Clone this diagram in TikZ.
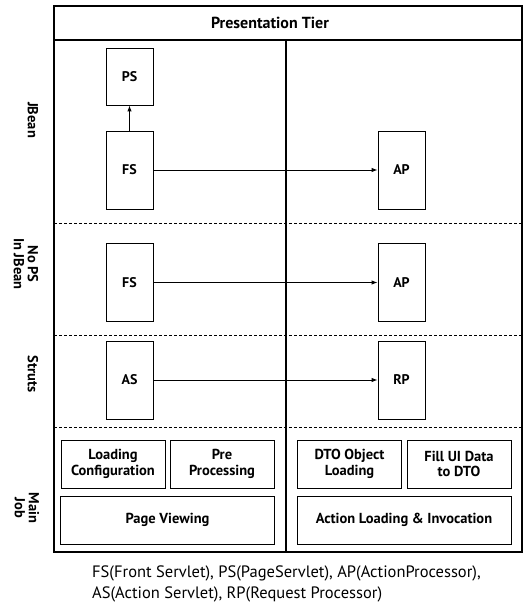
\documentclass[tikz,border=0pt]{standalone}
\usepackage{fontspec}
\setmainfont{PT Sans}
\usetikzlibrary{positioning, arrows.meta}

\begin{document}
\begin{tikzpicture}[x=1pt,y=-1pt,
        servlet/.style={draw, line width=0.9pt, minimum width=47pt, minimum height=78pt, inner sep=0pt, font=\bfseries\fontsize{14}{15}\selectfont},
        jobbox/.style={draw, line width=0.9pt, minimum width=104pt, minimum height=48pt, inner sep=0pt, align=center, font=\bfseries\fontsize{14.5}{15.5}\selectfont},
        widebox/.style={jobbox, minimum width=214pt},
        lane/.style={rotate=-90, align=center, font=\bfseries\fontsize{14.5}{14}\selectfont},
        sep/.style={dashed, dash pattern=on 3pt off 2pt, line width=0.8pt},
        flow/.style={-{Latex[length=6pt,width=4.5pt]}, line width=0.9pt}]
        \useasboundingbox (0,0) rectangle (524,604);
        %cornice e titolo
            \draw[line width=1.2pt] (54,6) rectangle (522,552);
            \draw[line width=1.2pt] (54,40)--(522,40);
            \node (tier) at (270,23) {\bfseries\fontsize{16}{17}\selectfont Presentation Tier};
            \draw[line width=1.2pt] (286,40)--(286,552);
        %linee tratteggiate
            \draw[sep] (54,223)--(522,223);
            \draw[sep] (54,335)--(522,335);
            \draw[sep] (54,427)--(522,427);
        %etichette corsie
            \node[lane] (jbean) at (33,120) {JBean};
            \node[lane] (nops) at (26,264) {No PS\\In JBean};
            \node[lane] (struts) at (33,374) {Struts};
            \node[lane] (mainjob) at (27,508) {Main\\Job};
        %servlet
            \node[servlet, minimum height=57pt] (ps) at (129.5,76.5) {PS};
            \node[servlet] (fsa) at (129.5,170) {FS};
            \node[servlet] (apa) at (401.5,170) {AP};
            \node[servlet] (fsb) at (129.5,282.5) {FS};
            \node[servlet] (apb) at (401.5,282.5) {AP};
            \node[servlet] (as) at (129.5,380) {AS};
            \node[servlet] (rp) at (401.5,380) {RP};
        %frecce
            \draw[flow] (fsa)--(ps);
            \draw[flow] (fsa)--(apa);
            \draw[flow] (fsb)--(apb);
            \draw[flow] (as)--(rp);
        %main job
            \node[jobbox] (loadcfg) at (113,464) {Loading\\Configuration};
            \node[jobbox] (preproc) at (222,464) {Pre\\Processing};
            \node[widebox] (pageview) at (167.5,520) {Page Viewing};
            \node[jobbox] (dtoload) at (349.5,464) {DTO Object\\Loading};
            \node[jobbox] (fillui) at (459,464) {Fill UI Data\\to DTO};
            \node[widebox] (actload) at (404,520) {Action Loading \& Invocation};
        %legenda
            \node[anchor=north west, align=left, inner sep=0pt, font=\fontsize{16.5}{21}\selectfont] (legend) at (92,566) {FS(Front Servlet), PS(PageServlet), AP(ActionProcessor),\\AS(Action Servlet), RP(Request Processor)};
    \end{tikzpicture}
\end{document}
